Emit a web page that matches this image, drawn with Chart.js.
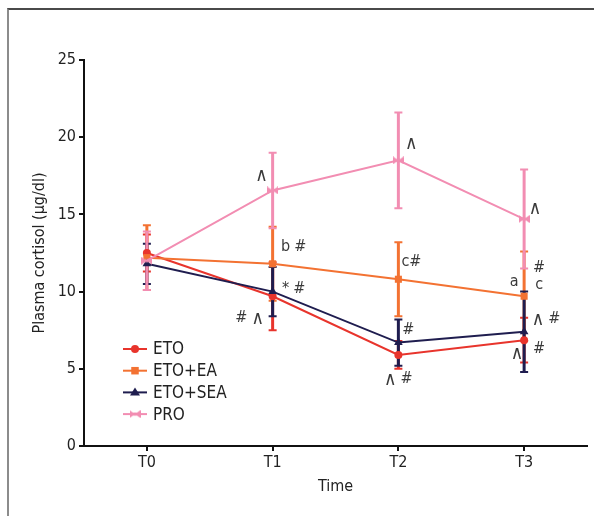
<!DOCTYPE html>
<html>
<head>
<meta charset="utf-8">
<script src="https://cdn.jsdelivr.net/npm/chart.js@4.4.1/dist/chart.umd.min.js"></script>
<style>
  html, body { margin: 0; padding: 0; background: #fff; }
  #wrap { position: relative; width: 594px; height: 516px; overflow: hidden; }
  #frame { position: absolute; left: 7px; top: 8px; width: 620px; height: 540px;
           border-top: 2px solid #4a4a4a; border-left: 2px solid #8c8c8c; }
  canvas { position: absolute; left: 0; top: 0; }
</style>
</head>
<body>
<div id="wrap">
  <div id="frame"></div>
  <canvas id="chart" width="594" height="516"></canvas>
</div>
<script>
const FONT = '"Liberation Sans Narrow", "DejaVu Sans Condensed", sans-serif'

// data
const labels = ['T0', 'T1', 'T2', 'T3']
const seriesNames = ['ETO', 'ETO+EA', 'ETO+SEA', 'PRO']
const eto   = [12.5, 9.7, 5.9, 6.85]
const etoSd = [1.2, 2.2, 0.9, 1.45]
const ea    = [12.2, 11.8, 10.8, 9.7]
const eaSd  = [2.1, 2.4, 2.4, 2.9]
const sea   = [11.8, 10.0, 6.7, 7.4]
const seaSd = [1.3, 1.6, 1.5, 2.6]
const pro   = [12.0, 16.55, 18.5, 14.7]
const proSd = [1.9, 2.45, 3.1, 3.2]
const yTicks = [0, 5, 10, 15, 20, 25]

// significance marks: series index, time index, text
const markSeries = [3, 1, 2, 0,  3, 1, 2, 0,  3, 1, 1, 1, 2, 0, 0]
const markIndex  = [1, 1, 1, 1,  2, 2, 2, 2,  3, 3, 3, 3, 3, 3, 3]
const markText   = ['∧', 'b #', '* #', '# ∧',  '∧', 'c#', '#', '∧ #',  '∧', '#', 'a', 'c', '∧ #', '∧', '#']
// where each mark sits relative to its point (px)
const markOffset = [[-11, -15], [21, -17], [21, -3], [-23, 22],
                    [13, -17], [13, -17], [10, -13], [0, 24],
                    [11, -11], [15, -28], [-10, -14], [15, -11], [22, -13], [-7, 13], [15, 9]]

const colors = ['#e8342c', '#f37232', '#1f1d4f', '#f28db2']
const values = [eto, ea, sea, pro]
const sds = [etoSd, eaSd, seaSd, proSd]

function bowtie(color) {
  const c = document.createElement('canvas')
  c.width = 11; c.height = 8
  const g = c.getContext('2d')
  g.fillStyle = color
  g.beginPath(); g.moveTo(0, 0); g.lineTo(5.5, 4); g.lineTo(0, 8); g.closePath(); g.fill()
  g.beginPath(); g.moveTo(11, 0); g.lineTo(5.5, 4); g.lineTo(11, 8); g.closePath(); g.fill()
  g.fillRect(4, 2.5, 3, 3)
  return c
}
const pointStyles = ['circle', 'rect', 'triangle', bowtie(colors[3])]
const pointRadii = [4, 5, 5, 5]

function drawMarker(ctx, style, r, x, y, color) {
  ctx.save()
  ctx.fillStyle = color
  if (style instanceof HTMLCanvasElement) {
    ctx.drawImage(style, x - style.width / 2, y - style.height / 2)
  } else if (style === 'circle') {
    ctx.beginPath(); ctx.arc(x, y, r, 0, Math.PI * 2); ctx.fill()
  } else if (style === 'rect') {
    ctx.fillRect(x - r * 0.75, y - r * 0.75, r * 1.5, r * 1.5)
  } else if (style === 'triangle') {
    ctx.beginPath(); ctx.moveTo(x, y - r); ctx.lineTo(x + r, y + r * 0.6); ctx.lineTo(x - r, y + r * 0.6)
    ctx.closePath(); ctx.fill()
  }
  ctx.restore()
}

// the wedge glyph is drawn a bit larger so it reaches cap height like in the figure
function tokenFont(tok) {
  return (tok === '∧' ? '19px ' : '16px ') + FONT
}

function drawMark(ctx, text, cx, cy) {
  const toks = text.split(' ')
  const gap = 4
  const widths = toks.map(t => { ctx.font = tokenFont(t); return ctx.measureText(t).width })
  const total = widths.reduce((a, b) => a + b, 0) + gap * (toks.length - 1)
  let x = cx - total / 2
  toks.forEach((t, k) => {
    ctx.font = tokenFont(t)
    ctx.fillText(t, x, t === '∧' ? cy + 1 : cy)
    x += widths[k] + gap
  })
}

const errorBars = {
  id: 'errorBars',
  beforeDatasetsDraw(chart) {
    const { ctx, scales: { x, y } } = chart
    ctx.save()
    values.forEach((vals, s) => {
      ctx.strokeStyle = colors[s]
      vals.forEach((v, i) => {
        const px = x.getPixelForValue(i)
        const top = y.getPixelForValue(v + sds[s][i])
        const bot = y.getPixelForValue(v - sds[s][i])
        ctx.lineWidth = 3
        ctx.beginPath(); ctx.moveTo(px, top); ctx.lineTo(px, bot); ctx.stroke()
        ctx.lineWidth = 2
        ctx.beginPath()
        ctx.moveTo(px - 4, top); ctx.lineTo(px + 4, top)
        ctx.moveTo(px - 4, bot); ctx.lineTo(px + 4, bot)
        ctx.stroke()
      })
    })
    ctx.restore()
  },
  afterDraw(chart) {
    const { ctx, chartArea, scales: { x, y } } = chart
    ctx.save()
    // significance marks
    ctx.fillStyle = '#3a3a3a'
    ctx.textAlign = 'left'
    ctx.textBaseline = 'middle'
    markText.forEach((t, k) => {
      const s = markSeries[k], i = markIndex[k]
      const px = x.getPixelForValue(i) + markOffset[k][0]
      const py = y.getPixelForValue(values[s][i]) + markOffset[k][1]
      drawMark(ctx, t, px, py)
    })
    // legend inside the plot, lower left
    const lx = chartArea.left + 39
    const ly = chartArea.bottom - 97
    ctx.font = '17px ' + FONT
    seriesNames.forEach((name, s) => {
      const yy = ly + s * 21.7
      ctx.strokeStyle = colors[s]
      ctx.lineWidth = 2
      ctx.beginPath(); ctx.moveTo(lx, yy); ctx.lineTo(lx + 24, yy); ctx.stroke()
      drawMarker(ctx, pointStyles[s], pointRadii[s], lx + 12, yy, colors[s])
      ctx.fillStyle = '#222'
      ctx.fillText(name, lx + 30, yy + 1)
    })
    ctx.restore()
  }
}

new Chart(document.getElementById('chart'), {
  type: 'line',
  data: {
    labels,
    datasets: values.map((vals, s) => ({
      label: seriesNames[s],
      data: vals,
      borderColor: colors[s],
      backgroundColor: colors[s],
      borderWidth: 2,
      pointStyle: pointStyles[s],
      pointRadius: pointRadii[s],
      pointBorderWidth: 0,
      tension: 0,
      fill: false,
      order: s === 3 ? 0 : 4 - s,
    })),
  },
  options: {
    responsive: false,
    animation: false,
    events: [],
    layout: { padding: { left: 26, top: 60, right: 7, bottom: 16 } },
    plugins: { legend: { display: false }, tooltip: { enabled: false } },
    scales: {
      x: {
        offset: true,
        afterFit(scale) { scale.height = 54 },
        border: { color: '#111', width: 2 },
        grid: { offset: false, drawOnChartArea: false, drawTicks: true, tickLength: 5, color: '#111', lineWidth: 2 },
        ticks: { color: '#222', font: { family: FONT, size: 16 }, padding: 2 },
        title: { display: true, text: 'Time', color: '#222', font: { family: FONT, size: 16 }, padding: { top: 0, bottom: 4 } },
      },
      y: {
        min: 0,
        max: 25,
        afterFit(scale) { scale.width = 58 },
        afterBuildTicks(scale) { scale.ticks = yTicks.map(v => ({ value: v })) },
        border: { color: '#111', width: 2 },
        grid: { drawOnChartArea: false, drawTicks: true, tickLength: 5, color: '#111', lineWidth: 2 },
        ticks: { color: '#222', font: { family: FONT, size: 16 }, padding: 3 },
        title: { display: true, text: 'Plasma cortisol (μg/dl)', color: '#222', font: { family: FONT, size: 16 }, padding: { top: 4, bottom: 0 } },
      },
    },
  },
  plugins: [errorBars],
})
</script>
</body>
</html>
